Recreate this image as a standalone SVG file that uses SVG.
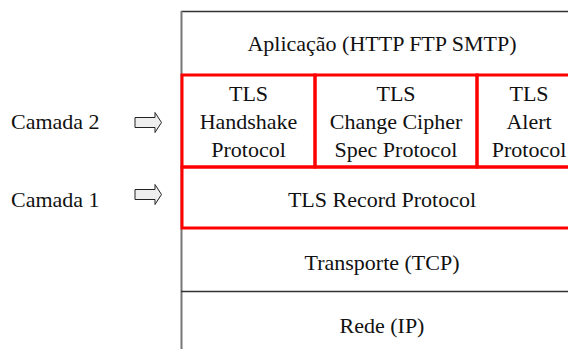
<svg xmlns="http://www.w3.org/2000/svg" width="568" height="349" viewBox="0 0 568 349">
  <style>
    text { font-family: "Liberation Serif", "Times New Roman", serif; font-size: 22px; fill: #111; }
    .mid { text-anchor: middle; }
    .frame { fill: none; stroke: #333; stroke-width: 1.5; }
    .side { fill: none; stroke: #777; stroke-width: 2; }
    .tls { fill: none; stroke: #ff0000; stroke-width: 3; }
    .blk { fill: #eeeeee; stroke: #222; stroke-width: 1; stroke-linejoin: miter; }
  </style>

  <!-- protocol stack frame -->
  <g id="frame">
    <line class="frame" x1="181" y1="11.5" x2="568" y2="11.5"/>
    <line class="side" x1="181.5" y1="11" x2="181.5" y2="349"/>
  </g>

  <g id="aplicacao">
    <text class="mid" x="382" y="51">Aplicação (HTTP FTP SMTP)</text>
  </g>

  <g id="transporte">
    <text class="mid" x="382" y="270">Transporte (TCP)</text>
  </g>

  <g id="rede">
    <line class="frame" x1="181" y1="291.5" x2="568" y2="291.5"/>
    <text class="mid" x="382" y="333">Rede (IP)</text>
  </g>

  <!-- TLS layer 2 protocols -->
  <g id="handshake">
    <rect class="tls" x="182" y="75" width="133" height="92"/>
    <text class="mid" x="248.5" y="101">TLS</text>
    <text class="mid" x="248.5" y="128.5">Handshake</text>
    <text class="mid" x="248.5" y="157">Protocol</text>
  </g>

  <g id="change-cipher-spec">
    <rect class="tls" x="315" y="75" width="162" height="92"/>
    <text class="mid" x="396" y="101">TLS</text>
    <text class="mid" x="396" y="128.5">Change Cipher</text>
    <text class="mid" x="396" y="157">Spec Protocol</text>
  </g>

  <g id="alert">
    <rect class="tls" x="477" y="75" width="105" height="92"/>
    <text class="mid" x="529" y="101">TLS</text>
    <text class="mid" x="529" y="128.5">Alert</text>
    <text class="mid" x="529" y="157">Protocol</text>
  </g>

  <!-- TLS layer 1 -->
  <g id="record">
    <rect class="tls" x="182" y="167" width="400" height="61"/>
    <text class="mid" x="382" y="207">TLS Record Protocol</text>
  </g>

  <!-- layer labels -->
  <g id="camada-2">
    <text x="11" y="128.5">Camada 2</text>
  </g>
  <g id="camada-1">
    <text x="11" y="207">Camada 1</text>
  </g>

  <!-- block arrows pointing at the layers -->
  <g id="connectors">
    <path class="blk" d="M135,117.5 H155 V112.5 L161.5,122.5 L155,132.5 V127.5 H135 Z"/>
    <path class="blk" d="M135,189.5 H155 V184.5 L161.5,194.5 L155,204.5 V199.5 H135 Z"/>
  </g>
</svg>
